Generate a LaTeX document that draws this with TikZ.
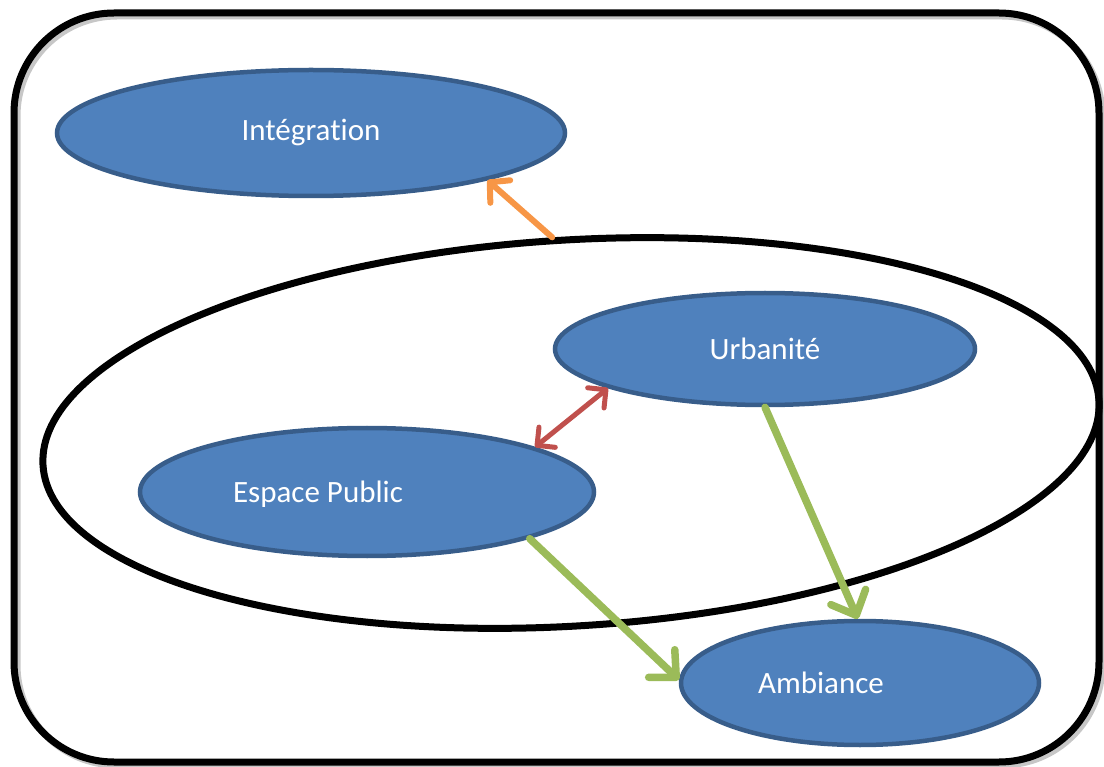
\documentclass[tikz,border=0pt]{standalone}
\usepackage{fontspec}
\setmainfont{Carlito}[Ligatures=NoCommon]
\usetikzlibrary{shapes.geometric,arrows.meta}
\definecolor{ofblue}{HTML}{4F81BD}
\definecolor{ofline}{HTML}{385D8A}
\definecolor{oforange}{HTML}{F79646}
\definecolor{ofred}{HTML}{C0504D}
\definecolor{ofgreen}{HTML}{9BBB59}
\begin{document}
\begin{tikzpicture}[x=1pt,y=-1pt,
  lbl/.style={text=white, font=\fontsize{31}{37}\selectfont},
  blob/.style={ellipse, draw=ofline, fill=ofblue, line width=4.5pt, inner sep=0pt, lbl},
  framebox/.style={rectangle, draw, line width=7pt, rounded corners=100pt, minimum width=1085pt, minimum height=749pt, inner sep=0pt},
  shadowbox/.style={framebox, draw=black!22},
  bigring/.style={ellipse, draw, line width=7pt, inner sep=0pt, minimum width=1058pt, minimum height=386pt, rotate=3.5},
  orangearrow/.style={draw=oforange, line width=6pt, line cap=round, -{Straight Barb[length=14pt,width=30pt,round]}},
  redarrow/.style={draw=ofred, line width=5pt, line cap=round, {Straight Barb[length=13pt,width=26pt,round]}-{Straight Barb[length=13pt,width=26pt,round]}},
  greenarrow/.style={draw=ofgreen, line width=7.5pt, line cap=round, -{Straight Barb[length=20pt,width=38pt,round]}}
]
\useasboundingbox (0,0) rectangle (1104,767);
\node[shadowbox] (frameshadow) at (559.5,390.5) {};
\node[framebox] (frame) at (556.5,387.5) {};
\node[bigring] (big) at (571,433) {};
\node[blob, minimum width=508pt, minimum height=126pt] (integ) at (311,133) {Intégration};
\node[blob, minimum width=420pt, minimum height=112pt] (urb) at (765,349) {Urbanité};
\node[blob, minimum width=454pt, minimum height=128pt, label={[lbl, xshift=-49pt, yshift=-2pt]center:Espace Public}] (esp) at (367,492) {};
\node[blob, minimum width=358pt, minimum height=124pt, label={[lbl, xshift=-39pt]center:Ambiance}] (amb) at (860,683) {};
\draw[orangearrow] (big.92) -- (integ.-15);
\draw[redarrow] (esp.15.6) -- (urb.194.6);
\draw[greenarrow] (esp.-16.7) -- (amb.179);
\draw[greenarrow] (urb.-90) -- (amb.92);
\end{tikzpicture}
\end{document}
